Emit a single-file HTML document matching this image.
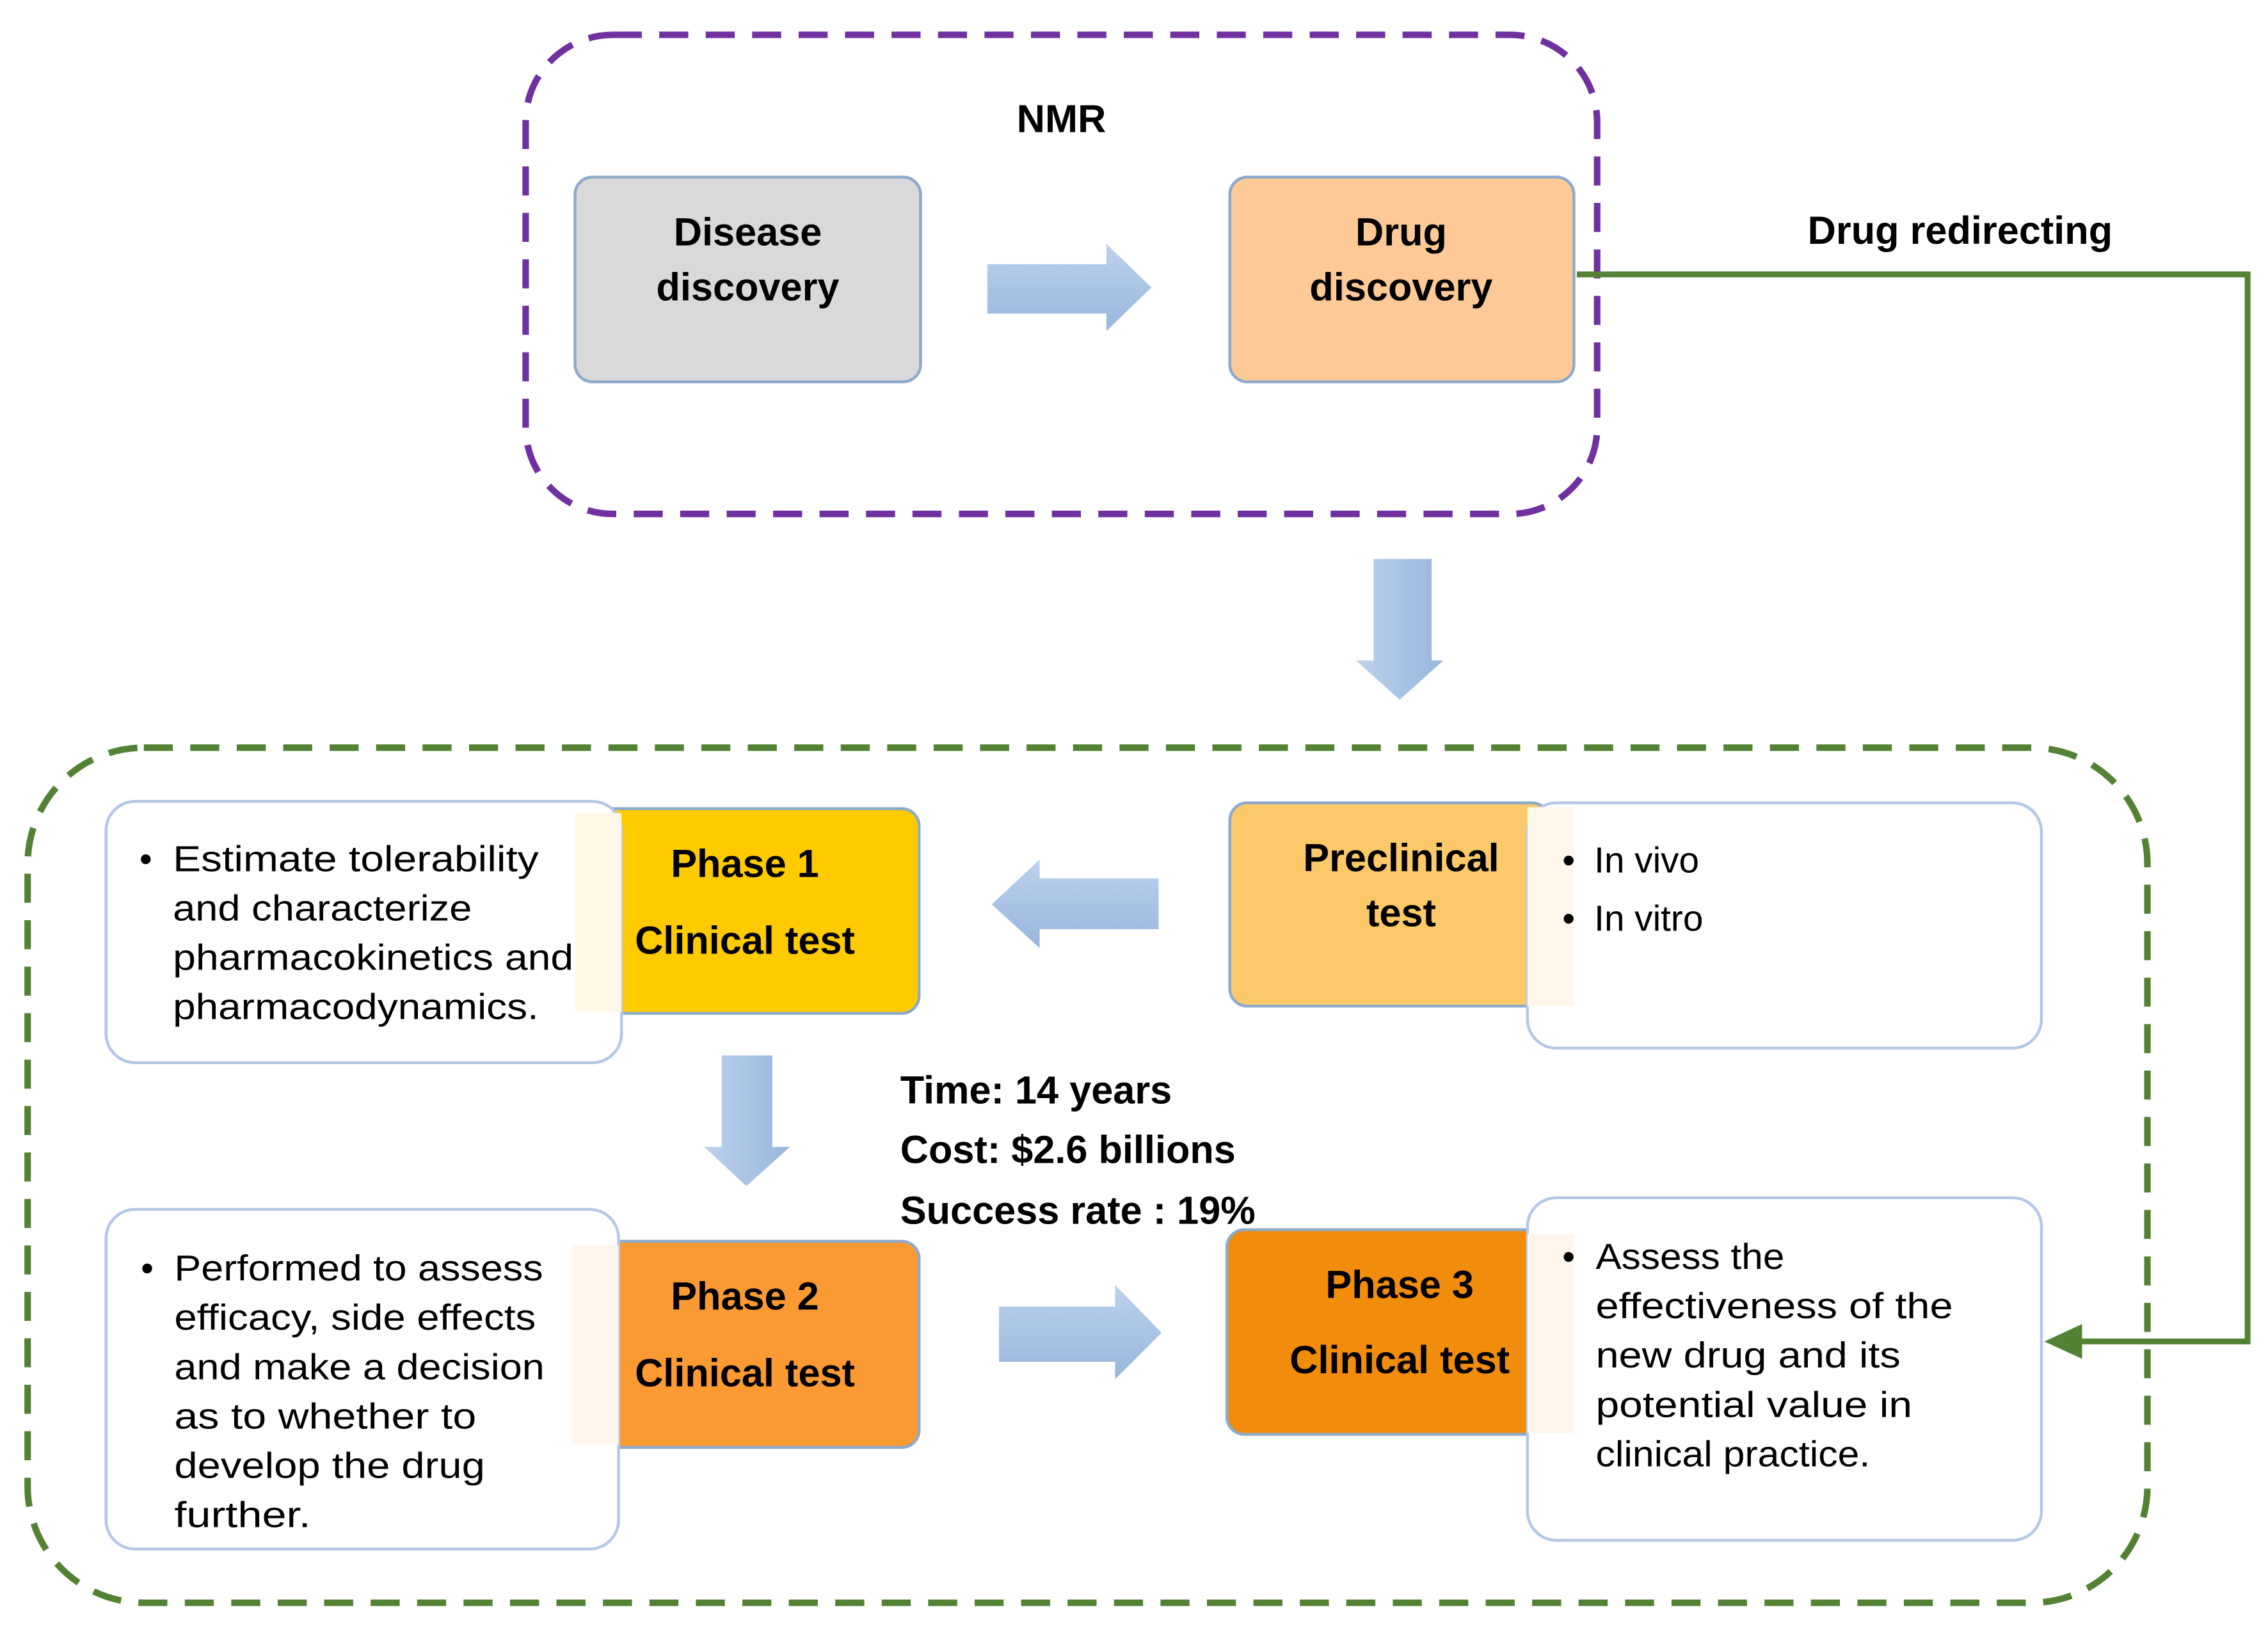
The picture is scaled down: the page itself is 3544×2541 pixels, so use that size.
<!DOCTYPE html>
<html><head><meta charset="utf-8"><style>
html,body{margin:0;padding:0;background:#fff;}
svg{display:block;}
text{font-family:"Liberation Sans",sans-serif;}
.b{font-weight:bold;font-size:27px;fill:#000;}
.t{font-size:25px;fill:#000;}
</style></head><body>
<svg width="3544" height="2541" viewBox="0 0 1562 1120" xmlns="http://www.w3.org/2000/svg">
<defs>
<linearGradient id="ag" x1="0" y1="0" x2="0" y2="1"><stop offset="0" stop-color="#bcd2ee"/><stop offset="1" stop-color="#98b6dc"/></linearGradient>
<linearGradient id="agv" x1="0" y1="0" x2="1" y2="0"><stop offset="0" stop-color="#bcd2ee"/><stop offset="1" stop-color="#98b6dc"/></linearGradient>
</defs>
<rect width="1562" height="1120" fill="#fff"/>
<!-- purple dashed -->
<rect x="362" y="24" width="738" height="330" rx="60" fill="none" stroke="#7030a0" stroke-width="4.5" stroke-dasharray="20 12"/>
<text class="b" x="731" y="91" text-anchor="middle">NMR</text>
<!-- Disease -->
<rect x="396" y="122" width="238" height="141" rx="12" fill="#d9d9d9" stroke="#8eaacb" stroke-width="2"/>
<text class="b" x="515" y="169" text-anchor="middle">Disease</text>
<text class="b" x="515" y="207" text-anchor="middle">discovery</text>
<polygon points="680,182 762,182 762,168 793,198 762,228 762,216 680,216" fill="url(#ag)"/>
<!-- Drug -->
<rect x="847" y="122" width="237" height="141" rx="12" fill="#fdc996" stroke="#8eaacb" stroke-width="2"/>
<text class="b" x="965" y="169" text-anchor="middle">Drug</text>
<text class="b" x="965" y="207" text-anchor="middle">discovery</text>
<text class="b" x="1350" y="168" text-anchor="middle">Drug redirecting</text>
<polyline points="1086,189 1548,189 1548,924 1430,924" fill="none" stroke="#548235" stroke-width="4"/>
<polygon points="1408,924 1434,912 1434,936" fill="#548235"/>
<!-- down arrow -->
<polygon points="946,385 986,385 986,455 994,455 964,482 934,455 946,455" fill="url(#agv)"/>
<!-- green dashed -->
<rect x="19" y="515" width="1460" height="589" rx="80" fill="none" stroke="#548235" stroke-width="4.5" stroke-dasharray="20 12"/>
<!-- Preclinical -->
<rect x="847" y="553" width="220" height="140" rx="12" fill="#fcc96a" stroke="#8eaacb" stroke-width="2"/>
<text class="b" x="965" y="600" text-anchor="middle">Preclinical</text>
<text class="b" x="965" y="638" text-anchor="middle">test</text>
<rect x="1052" y="553" width="354" height="169" rx="20" fill="#fff" stroke="#b4c7e7" stroke-width="2"/>
<rect x="1052" y="556" width="32" height="137" fill="#fff8ea"/>
<text class="t" x="1076" y="601">•</text><text class="t" x="1098" y="601">In vivo</text>
<text class="t" x="1076" y="641">•</text><text class="t" x="1098" y="641">In vitro</text>
<!-- left arrow -->
<polygon points="798,605 716,605 716,592 683,623 716,653 716,640 798,640" fill="url(#ag)"/>
<!-- Phase 1 -->
<rect x="400" y="557" width="233" height="141" rx="12" fill="#fecb00" stroke="#8eaacb" stroke-width="2"/>
<rect x="73" y="552" width="355" height="180" rx="20" fill="#fff" stroke="#b4c7e7" stroke-width="2"/>
<rect x="396" y="560" width="32" height="137" fill="#fff8e6"/>
<text class="b" x="513" y="604" text-anchor="middle">Phase 1</text>
<text class="b" x="513" y="657" text-anchor="middle">Clinical test</text>
<text class="t" x="96" y="600">•</text>
<text class="t" x="119" y="600" textLength="252" lengthAdjust="spacingAndGlyphs">Estimate tolerability</text>
<text class="t" x="119" y="634" textLength="206" lengthAdjust="spacingAndGlyphs">and characterize</text>
<text class="t" x="119" y="668" textLength="276" lengthAdjust="spacingAndGlyphs">pharmacokinetics and</text>
<text class="t" x="119" y="702" textLength="252" lengthAdjust="spacingAndGlyphs">pharmacodynamics.</text>
<!-- down arrow 2 -->
<polygon points="497,727 532,727 532,790 544,790 514,817 485,790 497,790" fill="url(#agv)"/>
<text class="b" x="620" y="760">Time: 14 years</text>
<text class="b" x="620" y="801">Cost: $2.6 billions</text>
<text class="b" x="620" y="843">Success rate : 19%</text>
<!-- Phase 2 -->
<rect x="400" y="855" width="233" height="142" rx="12" fill="#fb9a33" stroke="#8eaacb" stroke-width="2"/>
<rect x="73" y="833" width="353" height="234" rx="20" fill="#fff" stroke="#b4c7e7" stroke-width="2"/>
<rect x="394" y="858" width="32" height="137" fill="#fff5ea"/>
<text class="b" x="513" y="902" text-anchor="middle">Phase 2</text>
<text class="b" x="513" y="955" text-anchor="middle">Clinical test</text>
<text class="t" x="97" y="882">•</text>
<text class="t" x="120" y="882" textLength="254" lengthAdjust="spacingAndGlyphs">Performed to assess</text>
<text class="t" x="120" y="916" textLength="249" lengthAdjust="spacingAndGlyphs">efficacy, side effects</text>
<text class="t" x="120" y="950" textLength="255" lengthAdjust="spacingAndGlyphs">and make a decision</text>
<text class="t" x="120" y="984" textLength="208" lengthAdjust="spacingAndGlyphs">as to whether to</text>
<text class="t" x="120" y="1018" textLength="214" lengthAdjust="spacingAndGlyphs">develop the drug</text>
<text class="t" x="120" y="1052" textLength="94" lengthAdjust="spacingAndGlyphs">further.</text>
<!-- right arrow 3 -->
<polygon points="688,900 768,900 768,885 800,918 768,950 768,938 688,938" fill="url(#ag)"/>
<!-- Phase 3 -->
<rect x="845" y="847" width="222" height="141" rx="12" fill="#f28c0c" stroke="#8eaacb" stroke-width="2"/>
<rect x="1052" y="825" width="354" height="236" rx="20" fill="#fff" stroke="#b4c7e7" stroke-width="2"/>
<rect x="1052" y="850" width="32" height="137" fill="#fff5ea"/>
<text class="b" x="964" y="894" text-anchor="middle">Phase 3</text>
<text class="b" x="964" y="946" text-anchor="middle">Clinical test</text>
<text class="t" x="1076" y="874">•</text>
<text class="t" x="1099" y="874" textLength="130" lengthAdjust="spacingAndGlyphs">Assess the</text>
<text class="t" x="1099" y="908" textLength="246" lengthAdjust="spacingAndGlyphs">effectiveness of the</text>
<text class="t" x="1099" y="942" textLength="210" lengthAdjust="spacingAndGlyphs">new drug and its</text>
<text class="t" x="1099" y="976" textLength="218" lengthAdjust="spacingAndGlyphs">potential value in</text>
<text class="t" x="1099" y="1010" textLength="189" lengthAdjust="spacingAndGlyphs">clinical practice.</text>
</svg>
</body></html>
